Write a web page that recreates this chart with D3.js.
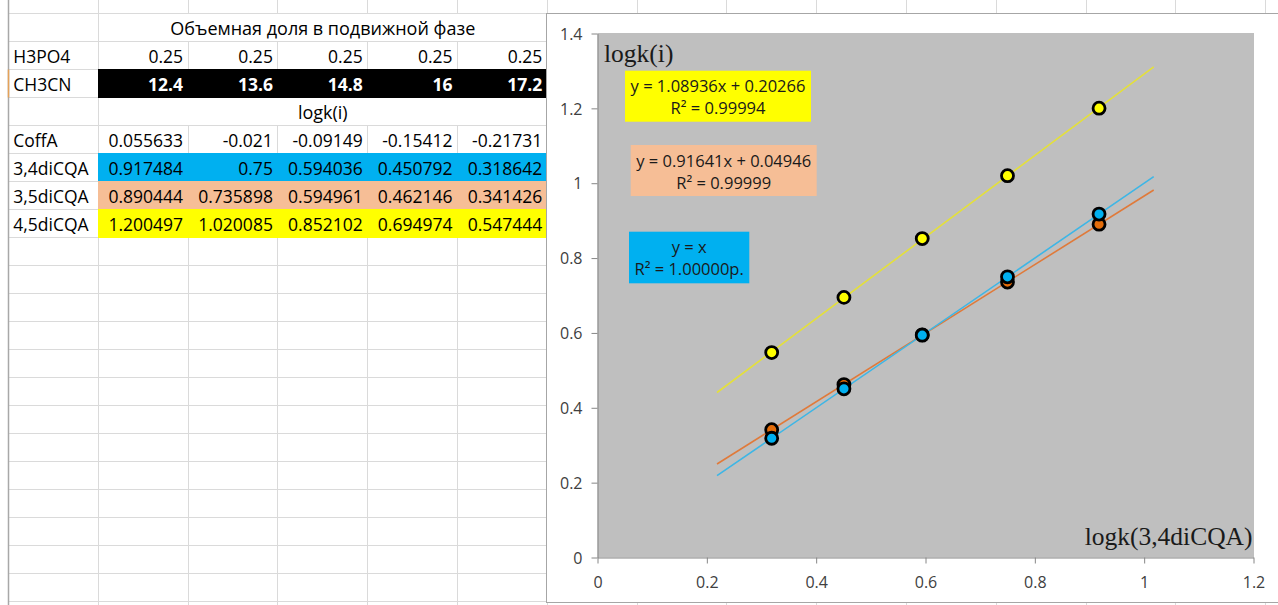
<!DOCTYPE html>
<html><head><meta charset="utf-8">
<script src="https://cdn.jsdelivr.net/npm/d3@7"></script>
<style>html,body{margin:0;padding:0;background:#fff;overflow:hidden}</style>
</head><body><svg id="c" width="1278" height="605"></svg>
<script>
// ---------- data ----------
const headerTitle = "Объемная доля в подвижной фазе";
const subTitle = "logk(i)";
const h3po4 = [0.25, 0.25, 0.25, 0.25, 0.25];
const ch3cn = [12.4, 13.6, 14.8, 16, 17.2];
const coffA = [0.055633, -0.021, -0.09149, -0.15412, -0.21731];
const dicqa34 = [0.917484, 0.75, 0.594036, 0.450792, 0.318642];
const dicqa35 = [0.890444, 0.735898, 0.594961, 0.462146, 0.341426];
const dicqa45 = [1.200497, 1.020085, 0.852102, 0.694974, 0.547444];
const seriesNames = ["4,5diCQA", "3,5diCQA", "3,4diCQA"];
const slopes = [1.08936, 0.91641, 1];
const intercepts = [0.20266, 0.04946, 0];
const eqLabels = ["y = 1.08936x + 0.20266", "y = 0.91641x + 0.04946", "y = x"];
const r2Labels = ["R² = 0.99994", "R² = 0.99999", "R² = 1.00000р."];
const xTicks = [0, 0.2, 0.4, 0.6, 0.8, 1, 1.2];
const yTicks = [0, 0.2, 0.4, 0.6, 0.8, 1, 1.2, 1.4];
const xTitle = "logk(3,4diCQA)";
const yTitle = "logk(i)";
const forecast = 0.1;

// ---------- styles ----------
const FONT = "'Open Sans', 'Noto Sans', sans-serif";
const SERIF = "'Liberation Serif', 'DejaVu Serif', serif";
const markerFill = {"4,5diCQA": "#FFFF00", "3,5diCQA": "#E36C0A", "3,4diCQA": "#00B0F0"};
const lineColor = {"4,5diCQA": "#E4E03A", "3,5diCQA": "#E07A3A", "3,4diCQA": "#3DB6E6"};
const boxFill = {"4,5diCQA": "#FFFF00", "3,5diCQA": "#F6BE96", "3,4diCQA": "#00B0F0"};

const svg = d3.select("#c");
const gridC = "#DADADA";

// ---------- spreadsheet ----------
const colEdge = k => k === 0 ? 8.3 : 98.3 + (k - 1) * 89.8;
const rowEdge = d3.scaleLinear().domain([0, 1]).range([13.5, 41.5]);
const crisp = v => Math.floor(v) + 0.5;
const sheet = svg.append("g");
const nCols = 16, nRows = 22;

sheet.selectAll("line.h").data(d3.range(0, nRows)).join("line")
  .attr("x1", 8).attr("x2", 547).attr("y1", d => rowEdge(d)).attr("y2", d => rowEdge(d))
  .attr("stroke", gridC).attr("stroke-width", 1);
sheet.selectAll("line.v").data(d3.range(1, nCols)).join("line")
  .attr("x1", d => crisp(colEdge(d))).attr("x2", d => crisp(colEdge(d)))
  .attr("y1", 0).attr("y2", 605).attr("stroke", gridC).attr("stroke-width", 1);
sheet.append("line").attr("x1", 8.5).attr("x2", 8.5).attr("y1", 0).attr("y2", 605)
  .attr("stroke", "#A8A8A8").attr("stroke-width", 1.5);
sheet.append("line").attr("x1", 8.5).attr("x2", 8.5).attr("y1", rowEdge(2)).attr("y2", rowEdge(3))
  .attr("stroke", "#E5A258").attr("stroke-width", 1.5);

const xB = colEdge(1), xEnd = 546;
// merged rows (0 and 3)
[0, 3].forEach(r => {
  sheet.append("rect").attr("x", crisp(xB) + 0.5).attr("y", rowEdge(r) + 0.5)
    .attr("width", xEnd - crisp(xB) - 0.5).attr("height", 27).attr("fill", "#fff");
});
// filled rows
const fills = [[2, "#000000"], [5, boxFill["3,4diCQA"]], [6, boxFill["3,5diCQA"]], [7, boxFill["4,5diCQA"]]];
fills.forEach(([r, c]) => {
  sheet.append("rect").attr("x", crisp(xB) - 0.5).attr("y", rowEdge(r) - 0.5)
    .attr("width", xEnd - crisp(xB) + 0.5).attr("height", 29).attr("fill", c);
});

const tableRows = [
  {r: 1, label: "H3PO4", vals: h3po4},
  {r: 2, label: "CH3CN", vals: ch3cn, bold: true, color: "#fff"},
  {r: 4, label: "CoffA", vals: coffA},
  {r: 5, label: seriesNames[2], vals: dicqa34},
  {r: 6, label: seriesNames[1], vals: dicqa35},
  {r: 7, label: seriesNames[0], vals: dicqa45}
];
const tFont = 17.5;
tableRows.forEach(row => {
  const base = rowEdge(row.r + 1) - 6.5;
  sheet.append("text").attr("x", colEdge(0) + 5).attr("y", base).text(row.label)
    .attr("font-family", FONT).attr("font-size", tFont).attr("fill", "#000");
  sheet.selectAll(null).data(row.vals).join("text")
    .attr("x", (d, i) => colEdge(i + 2) - 5).attr("y", base)
    .attr("text-anchor", "end").text(d => String(d))
    .attr("font-family", FONT).attr("font-size", tFont)
    .attr("font-weight", row.bold ? "bold" : "normal")
    .attr("fill", row.color || "#000");
});
const midBF = (colEdge(1) + colEdge(6)) / 2;
[[0, headerTitle], [3, subTitle]].forEach(([r, t]) => {
  sheet.append("text").attr("x", midBF).attr("y", rowEdge(r + 1) - 6.5)
    .attr("text-anchor", "middle").text(t)
    .attr("font-family", FONT).attr("font-size", 18).attr("fill", "#000");
});

// ---------- chart ----------
const chart = svg.append("g");
chart.append("rect").attr("x", 546.5).attr("y", 13.5).attr("width", 800).attr("height", 589)
  .attr("fill", "#fff").attr("stroke", "#A6A6A6").attr("stroke-width", 1);

const x = d3.scaleLinear().domain([0, 1.2]).range([597.5, 1253.5]);
const y = d3.scaleLinear().domain([0, 1.4]).range([557.5, 33.5]);

chart.append("rect").attr("x", x(0)).attr("y", y(1.4) - 0.5)
  .attr("width", x(1.2) - x(0) + 0.5).attr("height", y(0) - y(1.4) + 0.5).attr("fill", "#BFBFBF");

const fmt = d => String(+d.toFixed(1));
const gx = chart.append("g").attr("transform", `translate(0,${y(0)})`)
  .call(d3.axisBottom(x).tickValues(xTicks).tickSize(6).tickSizeOuter(0).tickPadding(13).tickFormat(fmt));
const gy = chart.append("g").attr("transform", `translate(${x(0)},0)`)
  .call(d3.axisLeft(y).tickValues(yTicks).tickSize(6).tickSizeOuter(0).tickPadding(9).tickFormat(fmt));
[gx, gy].forEach(g => {
  g.select(".domain").attr("stroke", "#868686");
  g.selectAll(".tick line").attr("stroke", "#868686");
  g.selectAll(".tick text").attr("font-family", FONT).attr("font-size", 16).attr("fill", "#404040");
});
gy.selectAll(".tick text").attr("dy", "0.36em");

// trendlines
const xs = dicqa34;
const xLo = d3.min(xs) - forecast, xHi = d3.max(xs) + forecast;
const seriesVals = [dicqa45, dicqa35, dicqa34];
const line = d3.line().x(d => x(d[0])).y(d => y(d[1]));
seriesNames.forEach((name, i) => {
  const pts = [xLo, xHi].map(v => [v, slopes[i] * v + intercepts[i]]);
  chart.append("path").attr("d", line(pts)).attr("fill", "none")
    .attr("stroke", lineColor[name]).attr("stroke-width", 1.6);
});
// markers
seriesNames.forEach((name, i) => {
  chart.append("g").selectAll("circle").data(seriesVals[i]).join("circle")
    .attr("cx", (d, j) => x(xs[j])).attr("cy", d => y(d)).attr("r", 6)
    .attr("fill", markerFill[name]).attr("stroke", "#000").attr("stroke-width", 2.8);
});

// axis titles
chart.append("text").attr("x", 604).attr("y", 61.7).text(yTitle)
  .attr("font-family", SERIF).attr("font-size", 25.5).attr("fill", "#1a1a1a");
chart.append("text").attr("x", 1252.5).attr("y", 545).attr("text-anchor", "end").text(xTitle)
  .attr("font-family", SERIF).attr("font-size", 25.5).attr("fill", "#1a1a1a");

// trendline labels
const boxes = [
  {x: 625, y: 70.7, w: 186, h: 51},
  {x: 630.7, y: 145, w: 186, h: 51},
  {x: 629, y: 231.7, w: 120.3, h: 51.6}
];
seriesNames.forEach((name, i) => {
  const b = boxes[i];
  const g = chart.append("g");
  g.append("rect").attr("x", b.x).attr("y", b.y).attr("width", b.w).attr("height", b.h)
    .attr("fill", boxFill[name]);
  [eqLabels[i], r2Labels[i]].forEach((t, k) => {
    g.append("text").attr("x", b.x + b.w / 2).attr("y", b.y + 21.5 + k * 22)
      .attr("text-anchor", "middle").text(t)
      .attr("font-family", FONT).attr("font-size", 16.5).attr("fill", "#1a1a1a");
  });
});
</script></body></html>
